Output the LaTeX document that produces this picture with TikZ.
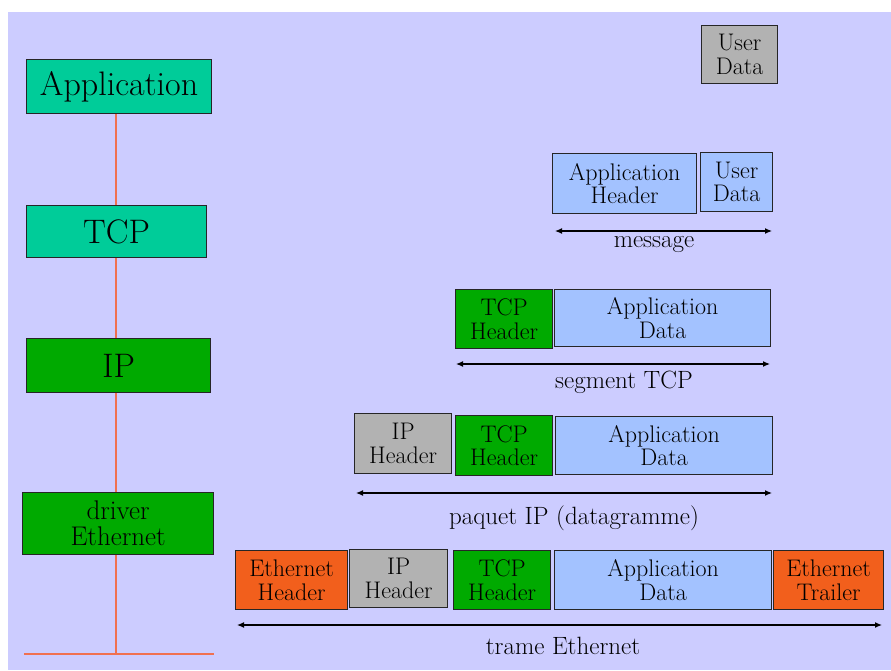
\documentclass[tikz,border=0pt]{standalone}
\usetikzlibrary{arrows.meta}
\definecolor{bgc}{HTML}{CCCCFF}
\definecolor{teal1}{HTML}{00CC99}
\definecolor{green1}{HTML}{00AA00}
\definecolor{gray1}{HTML}{B2B2B2}
\definecolor{blue1}{HTML}{A3C2FF}
\definecolor{orange1}{HTML}{F25F1C}
\definecolor{line1}{HTML}{F07050}
\tikzset{
  x=1pt, y=-1pt,
  pbox/.style={draw=black!85, line width=1.2pt, inner sep=0pt, align=center,
    font=\fontsize{24}{23.5}\selectfont, anchor=north west},
  lbox/.style={pbox, font=\fontsize{34}{30}\selectfont},
  lab/.style={font=\fontsize{25}{24}\selectfont, inner sep=0pt},
  span/.style={line width=1.2pt, {Latex[length=7pt,width=6pt]}-{Latex[length=7pt,width=6pt]}},
  layer/.style={line1, line width=1.3pt}
}
\begin{document}
\begin{tikzpicture}
\useasboundingbox (0,0) rectangle (891,670);
\fill[white] (0,0) rectangle (891,670);
\fill[bgc] (8,12) rectangle (891,670);
% left stack
\node[lbox, fill=teal1, minimum width=185pt, minimum height=54pt] (app) at (26,59) {Application};
\node[lbox, fill=teal1, minimum width=180pt, minimum height=52pt] (tcp) at (26,205) {TCP};
\node[lbox, fill=green1, minimum width=184pt, minimum height=54pt] (ip) at (26,338) {IP};
\node[pbox, fill=green1, minimum width=191pt, minimum height=62pt, font=\fontsize{27}{26}\selectfont] (drv) at (22,492) {driver\\Ethernet};
\coordinate (bot) at (116,654);
\coordinate (botl) at (24,654);
\coordinate (botr) at (214,654);
\draw[layer] (app.south -| bot) -- (tcp.north -| bot);
\draw[layer] (tcp.south -| bot) -- (ip.north -| bot);
\draw[layer] (ip.south -| bot) -- (drv.north -| bot);
\draw[layer] (drv.south -| bot) -- (bot);
\draw[layer] (botl) -- (botr);
% row 0
\node[pbox, fill=gray1, minimum width=76pt, minimum height=58pt] (ud0) at (701,25) {User\\Data};
% row 1
\node[pbox, fill=blue1, minimum width=144pt, minimum height=60pt] (ah1) at (552,153) {Application\\Header};
\node[pbox, fill=blue1, minimum width=72pt, minimum height=59pt] (ud1) at (700,152) {User\\Data};
\coordinate (m1) at (555,231); \coordinate (m2) at (772,231);
\draw[span] (m1) -- (m2);
\node[lab] (lm) at (654,244) {message};
% row 2
\node[pbox, fill=green1, minimum width=97pt, minimum height=59pt] (th2) at (455,289) {TCP\\Header};
\node[pbox, fill=blue1, minimum width=216pt, minimum height=57pt] (ad2) at (554,289) {Application\\Data};
\coordinate (s1) at (456,364); \coordinate (s2) at (770,364);
\draw[span] (s1) -- (s2);
\node[lab] (ls) at (624,382) {segment TCP};
% row 3
\node[pbox, fill=gray1, minimum width=97pt, minimum height=60pt] (ih3) at (354,413) {IP\\Header};
\node[pbox, fill=green1, minimum width=97pt, minimum height=60pt] (th3) at (455,415) {TCP\\Header};
\node[pbox, fill=blue1, minimum width=217pt, minimum height=58pt] (ad3) at (555,416) {Application\\Data};
\coordinate (p1) at (356,493); \coordinate (p2) at (772,493);
\draw[span] (p1) -- (p2);
\node[lab] (lp) at (574,518) {paquet IP (datagramme)};
% row 4
\node[pbox, fill=orange1, minimum width=112pt, minimum height=59pt] (eh4) at (235,550) {Ethernet\\Header};
\node[pbox, fill=gray1, minimum width=98pt, minimum height=58pt] (ih4) at (349,549) {IP\\Header};
\node[pbox, fill=green1, minimum width=97pt, minimum height=59pt] (th4) at (453,550) {TCP\\Header};
\node[pbox, fill=blue1, minimum width=217pt, minimum height=59pt] (ad4) at (554,550) {Application\\Data};
\node[pbox, fill=orange1, minimum width=110pt, minimum height=59pt] (et4) at (773,550) {Ethernet\\Trailer};
\coordinate (e1) at (237,625); \coordinate (e2) at (882,625);
\draw[span] (e1) -- (e2);
\node[lab] (le) at (563,646) {trame Ethernet};
\end{tikzpicture}
\end{document}
